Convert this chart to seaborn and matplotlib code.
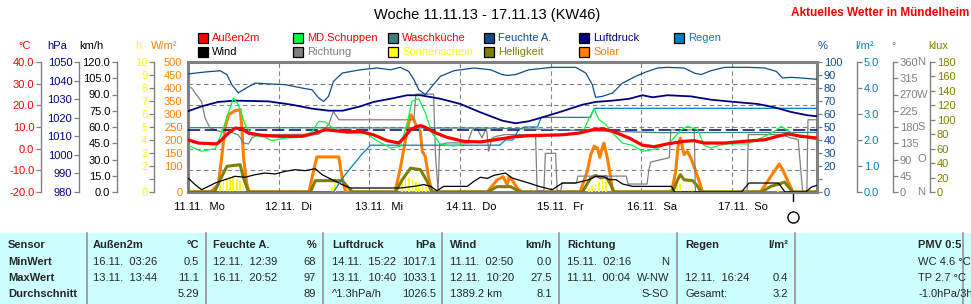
import numpy as np
import pandas as pd
import matplotlib
matplotlib.use("Agg")
import matplotlib.pyplot as plt
import seaborn as sns
from matplotlib.patches import Rectangle
from matplotlib.lines import Line2D
from matplotlib.transforms import blended_transform_factory

# ---------------- data (hours since 11.11. 00:00) ----------------
day_ticks = [0, 24, 48, 72, 96, 120, 144]
day_labels = ["11.11.  Mo", "12.11.  Di", "13.11.  Mi", "14.11.  Do",
              "15.11.  Fr", "16.11.  Sa", "17.11.  So"]

aussen_h = [0, 2.7, 7.6, 8.9, 10.7, 12.5, 14.2, 16, 19.5, 23.9, 30.2, 32.8, 36.3, 39, 42,
            45.6, 49.1, 52.7, 55.8, 57.1, 58.9, 60.6, 61.7, 62.8, 65, 68.6, 73, 77.4, 83.2,
            85.8, 90.2, 94.7, 99.1, 103.5, 107, 109.7, 112.4, 116.8, 120.3, 123.4, 126.9,
            131.3, 134, 136.6, 142, 147.3, 152.6, 156.1, 158.8, 162.3, 166.5]
aussen_v = [4.1, 2.6, 2.2, 4.1, 7.2, 9.5, 9.2, 7.2, 6.2, 5.7, 5.7, 6.8, 8.7, 8.3, 7.7,
            8.0, 6.4, 3.7, 2.6, 4.9, 8.7, 10.3, 10.6, 9.9, 7.7, 5.2, 3.4, 3.1, 4.6,
            5.4, 6.0, 6.2, 6.4, 7.2, 8.7, 9.2, 8.0, 4.9, 1.6, 0.9, 2.2,
            3.4, 3.7, 2.6, 2.6, 3.4, 4.1, 5.7, 6.8, 5.7, 4.9]

schuppen_h = [0, 3.6, 7.2, 8.9, 10.7, 12, 13.3, 15.1, 16.9, 20.4, 22.2, 25.7, 29.2, 32.8,
              34.6, 36.3, 39, 42, 47.4, 50, 53.6, 56.2, 58, 59.3, 61.1, 62.8, 64.6, 66.8,
              70.4, 75.7, 79.2, 81.9, 84, 90.2, 99.1, 104.4, 106.2, 107.5, 108.8, 110.6,
              112.4, 115, 117.7, 120.3, 124.3, 127.8, 130.5, 132.2, 134.9, 136.6, 138.4,
              142, 148.2, 151.7, 155.2, 157, 158.8, 161.4, 166.5]
schuppen_v = [1.5, -1.2, 0.0, 7.2, 16.5, 23.4, 20.3, 11.1, 6.2, 5.2, 3.7, 4.9, 5.2, 7.7,
              12.6, 12.3, 8.7, 7.2, 6.8, 3.7, 0.3, 1.1, 11.8, 21.9, 23.1, 16.5, 7.2, 2.0,
              1.2, 3.1, 3.7, 4.9, 4.9, 5.7, 6.2, 7.2, 14.2, 18.4, 13.4, 11.1,
              7.2, 2.6, 1.5, -1.2, 0.0, 3.4, 8.7, 10.3, 8.7, 1.5, 0.3,
              2.2, 2.2, 4.9, 8.0, 10.3, 8.3, 5.7, 4.1]

wasch_h = [0, 40, 80, 95, 110, 125, 166.5]
wasch_v = [9.7, 9.6, 9.5, 8.9, 8.1, 7.4, 7.5]

feuchte_h = [0, 4.5, 8.5, 10.3, 11.6, 13.3, 15.1, 17.8, 22.2, 25.7, 28.4, 31, 32.8, 34.6,
             35.9, 37.2, 38.5, 40.8, 45.6, 50, 53.6, 56.2, 58.4, 59.8, 61.1, 62.8, 64.2,
             66.8, 70.4, 75.7, 80.1, 83.2, 84.5, 86.7, 90.2, 96.4, 102.6, 105.3, 107,
             107.9, 109.7, 112.4, 115, 118.5, 121.2, 124.3, 126.9, 131.3, 134, 135.8,
             138.4, 142, 148.2, 152.6, 155.7, 157.4, 159.6, 162.3, 166.5]
feuchte_v = [90.8, 92.3, 93.3, 90.3, 82.6, 76.2, 79.5, 83.8, 83.0, 82.6, 81.0, 79.5, 78.7,
             72.3, 69.7, 73.6, 85.0, 91.5, 94.0, 95.4, 94.0, 95.9, 92.8, 86.4, 78.7, 74.9,
             80.0, 89.0, 93.3, 95.4, 94.0, 90.3, 89.7, 90.3, 94.0, 95.9, 95.9, 91.5, 82.6,
             72.8, 73.6, 76.2, 83.8, 89.0, 92.3, 95.4, 95.9, 95.4, 91.5, 90.3,
             93.3, 95.9, 95.9, 95.4, 92.8, 87.7, 88.2, 87.7, 86.7]

druck_h = [0, 3.6, 8, 12.5, 21.3, 27.5, 32.8, 37.2, 41, 45.6, 49.1, 53.6, 58, 61.5, 66.8,
           72.1, 77.4, 83.2, 86.7, 90.2, 93.8, 99.1, 104.4, 107.9, 112.4, 116.8, 120.3,
           123, 126.9, 133.1, 138.4, 144.6, 150.8, 155.2, 159.6, 164, 166.5]
druck_v = [1023.5, 1026.1, 1028.5, 1029.2, 1028.8, 1027.0, 1024.9, 1023.8, 1023.8, 1026.1,
           1028.5, 1030.2, 1032.1, 1032.1, 1030.2, 1027.4, 1022.9, 1018.4, 1017.0, 1018.1,
           1020.2, 1023.5, 1027.0, 1028.5, 1029.2, 1030.2, 1032.1, 1031.0, 1032.1, 1031.5,
           1029.7, 1028.5, 1027.4, 1025.6, 1023.1, 1021.3, 1020.8]
druck_norm = 1013.25

regen_h = [0, 38.5, 41, 43.5, 46, 48.3, 82.5, 84, 86, 87.5, 89, 92.5, 93.5, 106.5, 107.5, 166.5]
regen_v = [0, 0, 0.55, 1.0, 1.45, 1.8, 1.8, 2.0, 2.0, 2.4, 2.5, 2.5, 2.87, 2.87, 3.22, 3.22]

wind_h = [0, 1.9, 3.6, 5.4, 7.2, 9.8, 12.5, 15.1, 17.8, 20.4, 23.1, 25.7, 28.4, 31, 33.7,
          35.5, 38.1, 40.8, 43, 56.2, 59.8, 62.4, 64.2, 65.9, 67.7, 73.9, 75.7, 77.4, 79.2,
          81, 84, 85.8, 90.2, 92.9, 96.4, 99.1, 102.6, 106.2, 107.9, 109.7, 111.5, 113.3,
          115, 117.7, 128.0, 128.8, 146.5, 148.5, 156.3, 158, 163.5, 165, 166.5]
wind_v = [12.9, 6.8, 2.1, 5.2, 8.3, 11.4, 14.5, 13.6, 16.0, 17.5, 16.6, 19.1, 20.6, 19.7,
          21.5, 16.0, 11.4, 6.8, 3.7, 3.7, 5.2, 6.8, 5.2, 1.2, 5.2, 5.2, 9.9, 13.6, 12.5,
          15.4, 17.5, 12.9, 8.3, 5.2, 2.1, 8.3, 8.3, 11.4, 14.5, 14.5, 11.4, 11.4,
          7.4, 5.2, 5.2, 0.0, 0.0, 8.3, 8.3, 0.0, 0.0, 4.5, 6.2]

richtung_h = [0, 1, 2.3, 3.6, 4.5, 5.8, 7.2, 8.9, 10.7, 12, 13.3, 14.7, 16, 16.9, 18.2, 22,
              34.6, 37.2, 38.5, 39.9, 59.8, 60.3, 65, 65.5, 66.2, 66.6, 68.6, 74, 75.2,
              76.5, 77.8, 79, 79.6, 80.5, 81.9, 84, 92, 92.4, 94.2, 94.6, 97.3, 97.7,
              98.7, 99, 102.8, 103.2, 116, 116.5, 121.5, 122, 122.5, 127.4, 127.8, 134,
              134.3, 148, 148.3, 157, 159.5, 161.5, 162.7, 163.8, 164.1, 166.5]
richtung_v = [290, 288, 268, 250, 205, 178, 172, 166, 172, 163, 158, 136, 133, 150, 157, 159,
              160, 186, 223, 200, 200, 271, 271, 103, 2, 131, 136, 136, 172,
              177, 150, 177, 113, 150, 155, 159, 159, 4, 4, 107, 107, 4,
              4, 25, 25, 44, 44, 22, 22, 62, 83, 95, 172, 172,
              0, 0, 159, 159, 150, 145, 0, 0, 200, 200]

solar_h = [0, 6, 8, 8.9, 9.8, 10.7, 12.5, 13.8, 14.2, 14.7, 15.6, 16.2,
           32, 33.2, 34.1, 39.9, 40.8, 41.7,
           54.8, 56.2, 57.5, 58.4, 59, 59.8, 60.6, 61.5, 62, 62.8, 63.7, 64.6,
           79.2, 81.8, 83.4, 84.5, 85, 85.8, 87.2, 88.5,
           103.8, 105.7, 106.6, 107.5, 108.4, 109, 109.7, 110.1, 111, 111.9, 112.4,
           128, 129.1, 129.7, 130.3, 130.9, 131.3, 132.2, 133.1, 134.4, 135.3, 136.2,
           151.5, 153.4, 155.2, 156.5, 157.4, 158.8, 160.1, 166.5]
solar_v = [0, 0, 28, 131, 246, 297, 313, 317, 259, 131, 28, 0,
           0, 80, 135, 135, 54, 0,
           0, 92, 195, 265, 297, 278, 246, 233, 156, 137, 54, 0,
           0, 46, 59, 27, 59, 46, 14, 0,
           0, 80, 144, 176, 169, 133, 172, 188, 131, 54, 0,
           0, 80, 176, 208, 169, 144, 156, 131, 80, 41, 0,
           0, 41, 80, 108, 86, 41, 0, 0]

hell_h = [0, 7, 8.5, 10.3, 13.8, 14.7, 16,
          32.4, 33.7, 40.8, 43.5,
          54.9, 56.7, 58.9, 61.5, 63.3, 64.6,
          79.2, 81.8, 85.4, 88,
          104.4, 106.6, 107.9, 109.3, 110.6, 111.9, 112.8,
          128.3, 129.6, 130.3, 131.3, 133.6, 134.9, 135.8,
          151.7, 154.3, 156.5, 157.9, 158.8, 160.1, 166.5]
hell_v = [0, 0, 17, 35.6, 37.8, 19.4, 0,
          0, 15.7, 15.7, 0,
          0, 17, 33, 31, 14.8, 0,
          0, 7.4, 7.4, 0,
          0, 19.4, 23, 19.4, 21.7, 10, 0,
          0, 17, 24, 17, 15.7, 7.9, 0,
          0, 7.9, 11, 13.8, 7.9, 0, 0]

sonne_h = [8.5, 9.4, 10.3, 11.1, 12.0, 12.9, 13.8, 14.7,
           38.1, 39.0,
           56.7, 57.6, 58.5, 59.4, 60.3, 61.2, 62.1, 63.0, 63.9,
           106.2, 107.0, 107.9, 108.8, 109.7, 110.6,
           129.4, 130.3, 132.5, 133.4,
           156.1]
sonne_v = [0.56, 0.82, 0.95, 1.08, 1.2, 1.02, 0.82, 0.44,
           0.4, 0.75,
           0.67, 1.05, 1.05, 0.92, 0.79, 0.67, 0.41, 0.62, 0.28,
           0.3, 0.45, 0.6, 0.75, 1.15, 0.78,
           0.8, 0.6, 0.15, 0.15,
           0.12]

now_h = 160.1

# ---------------- style ----------------
sns.set_theme(style="white")
plt.rcParams['font.family'] = ['Liberation Sans', 'DejaVu Sans']
plt.rcParams['font.size'] = 8
plt.rcParams['axes.unicode_minus'] = False

W, H = 971, 304
fig = plt.figure(figsize=(W / 100, H / 100), dpi=100)
fig.patch.set_facecolor('white')


def fx(px):
    return px / W


def fy(py):
    return 1 - py / H


L, R, T, B = 188, 817, 62, 192
rect = [fx(L), fy(B), (R - L) / W, (B - T) / H]
XMAX = (R - L) / 3.778
PW = R - L
GRAY = '#808080'

RED = '#ff0000'
GREEN = '#00ff40'
TEAL = '#408080'
FEUCHTE = '#104c8c'
NAVY = '#000080'
REGEN = '#0080c0'
YELLOW = '#ffff00'
OLIVE = '#808000'
ORANGE = '#ff8000'

base = fig.add_axes(rect)
base.set_facecolor('white')
base.set_xlim(0, XMAX)
base.set_ylim(-20, 40)
base.set_xticks(day_ticks)
base.set_xticklabels([])
base.set_yticks([-10, 0, 10, 20, 30])
base.set_yticklabels([])
base.tick_params(length=0)
base.grid(True, color=GRAY, linestyle=(0, (4, 3)), linewidth=0.8)
for s in base.spines.values():
    s.set_visible(True)
    s.set_color(GRAY)
    s.set_linewidth(2.2)

blend = blended_transform_factory(base.transData, base.transAxes)
for d, lab in zip(day_ticks, day_labels):
    base.annotate(lab, xy=(d, 0), xycoords=blend, xytext=(-14 * 0.72, -15 * 0.72),
                  textcoords='offset points', ha='left', va='center',
                  annotation_clip=False, fontsize=8, color='black')


def overlay(ylim, side=None, px=None, color='black', ticks=None, labels=None,
            spine=True, length=3.6):
    a = fig.add_axes(rect, sharex=base)
    a.patch.set_visible(False)
    for s in a.spines.values():
        s.set_visible(False)
    a.grid(False)
    a.tick_params(axis='x', which='both', bottom=False, top=False,
                  labelbottom=False, labeltop=False)
    a.set_ylim(*ylim)
    if side is None:
        a.set_yticks([])
    else:
        if side == 'right':
            a.yaxis.tick_right()
        else:
            a.yaxis.tick_left()
        sp = a.spines[side]
        sp.set_position(('axes', (px - L) / PW))
        sp.set_visible(spine)
        sp.set_color(GRAY)
        sp.set_linewidth(1.0)
        a.set_yticks(ticks)
        a.set_yticklabels(labels)
        a.tick_params(axis='y', colors=GRAY, labelcolor=color, length=length,
                      width=0.9, direction='out', pad=1.2, labelsize=8)
    return a


def line(ax, hs, vs, color, lw, **kw):
    df = pd.DataFrame({'h': hs, 'v': vs})
    sns.lineplot(data=df, x='h', y='v', ax=ax, color=color, linewidth=lw,
                 estimator=None, sort=False, **kw)
    ax.set_xlabel('')
    ax.set_ylabel('')


# Solar (W/m2) - frame side
w_ticks = list(range(0, 501, 50))
ax_w = overlay((0, 500), 'left', L, ORANGE, w_ticks,
               ['' if t == 50 else str(t) for t in w_ticks], spine=False, length=0)
ax_w.tick_params(axis='y', pad=4)
line(ax_w, solar_h, solar_v, ORANGE, 2.2)
ax_w.set_ylim(0, 500)

# Sonnenschein (h)
h_ticks = list(range(0, 11))
ax_h = overlay((0, 10), 'left', 154, YELLOW, h_ticks,
               ['' if t == 1 else str(t) for t in h_ticks])
ax_h.bar(sonne_h, sonne_v, width=0.45, color=YELLOW, linewidth=0)
ax_h.set_ylim(0, 10)

# Helligkeit (klux)
k_ticks = list(range(0, 181, 20))
ax_k = overlay((0, 180), 'right', 930, OLIVE, k_ticks, [str(t) for t in k_ticks])
line(ax_k, hell_h, hell_v, OLIVE, 2.2)
ax_k.set_ylim(0, 180)

# Richtung (deg)
d_ticks = list(range(0, 361, 45))
ax_d = overlay((0, 360), 'right', 893, GRAY, d_ticks, [str(t) for t in d_ticks])
line(ax_d, richtung_h, richtung_v, GRAY, 0.9)
ax_d.set_ylim(0, 360)
for val, letter in [(360, 'N'), (270, 'W'), (180, 'S'), (90, 'O'), (0, 'N')]:
    ax_d.annotate(letter, xy=(1.0, val), xycoords=blended_transform_factory(ax_d.transAxes, ax_d.transData),
                  xytext=((917 - R) * 0.72, 0), textcoords='offset points',
                  ha='left', va='center', color=GRAY, fontsize=8, annotation_clip=False)

# Wind (km/h)
km_ticks = list(range(0, 121, 15))
ax_km = overlay((0, 120), 'left', 117, 'black', km_ticks, ['%.1f' % t for t in km_ticks])
line(ax_km, wind_h, wind_v, 'black', 0.9)
ax_km.set_ylim(0, 120)

# Regen (l/m2)
r_ticks = [0, 1, 2, 3, 4, 5]
ax_r = overlay((0, 5), 'right', 857, REGEN, r_ticks, ['%.1f' % t for t in r_ticks])
line(ax_r, regen_h, regen_v, REGEN, 0.9)
ax_r.set_ylim(0, 5)

# Luftdruck (hPa)
p_ticks = list(range(980, 1051, 10))
ax_p = overlay((980, 1050), 'left', 79, NAVY, p_ticks, [str(t) for t in p_ticks])
ax_p.axhline(druck_norm, color=NAVY, linewidth=1.1, linestyle=(0, (8, 3)))
line(ax_p, druck_h, druck_v, NAVY, 1.3)
ax_p.set_ylim(980, 1050)

# Feuchte (%)
pc_ticks = list(range(0, 101, 10))
ax_pc = overlay((0, 100), 'right', R, FEUCHTE, pc_ticks,
                ['' if t == 10 else str(t) for t in pc_ticks], spine=False)
line(ax_pc, feuchte_h, feuchte_v, FEUCHTE, 0.9)
ax_pc.set_ylim(0, 100)

# Temperaturen (degC)
c_ticks = list(range(-20, 41, 10))
ax_c = overlay((-20, 40), 'left', 41, RED, c_ticks, ['%.1f' % t for t in c_ticks])
line(ax_c, wasch_h, wasch_v, TEAL, 0.9)
line(ax_c, schuppen_h, schuppen_v, GREEN, 0.9)
line(ax_c, aussen_h, aussen_v, RED, 2.3)
ax_c.set_ylim(-20, 40)

base.set_xlim(0, XMAX)

# current time marker
base.plot([now_h, now_h], [0, -9 / 130], color='black', lw=1.0, transform=blend, clip_on=False)
base.plot([now_h], [-25 / 130], marker='o', markersize=8, mfc='none', mec='black',
          mew=1.0, transform=blend, clip_on=False)

# ---------------- unit headers ----------------
for txt, x, c in [("°C", 25, RED), ("hPa", 57.5, NAVY), ("km/h", 91.5, 'black'),
                  ("h", 138.5, YELLOW), ("W/m²", 164.5, ORANGE), ("%", 822.5, FEUCHTE),
                  ("l/m²", 864, REGEN), ("°", 894, GRAY), ("klux", 938.5, OLIVE)]:
    fig.text(fx(x), fy(46), txt, color=c, fontsize=8, ha='center', va='center')

# ---------------- titles ----------------
fig.text(fx(487), fy(15), "Woche 11.11.13 - 17.11.13 (KW46)", fontsize=10.5,
         ha='center', va='center', color='black')
fig.text(fx(969), fy(13), "Aktuelles Wetter in Mündelheim", fontsize=8.5,
         fontweight='bold', ha='right', va='center', color=RED)

# ---------------- legend ----------------
legend_items = [
    ("Außen2m", RED, RED, 0, 0), ("MD.Schuppen", GREEN, RED, 1, 0),
    ("Waschküche", TEAL, RED, 2, 0), ("Feuchte A.", FEUCHTE, FEUCHTE, 3, 0),
    ("Luftdruck", NAVY, NAVY, 4, 0), ("Regen", REGEN, REGEN, 5, 0),
    ("Wind", 'black', 'black', 0, 1), ("Richtung", GRAY, GRAY, 1, 1),
    ("Sonnenschein", YELLOW, YELLOW, 2, 1), ("Helligkeit", OLIVE, OLIVE, 3, 1),
    ("Solar", ORANGE, ORANGE, 4, 1),
]
col_x = [198, 293, 388, 484, 579, 674]
row_y = [38, 52]
for name, fc, tc, ci, ri in legend_items:
    x0, yc = col_x[ci], row_y[ri]
    fig.add_artist(Rectangle((fx(x0), fy(yc + 5)), 10 / W, 10 / H, transform=fig.transFigure,
                             facecolor=fc, edgecolor='black', linewidth=0.9))
    fig.text(fx(x0 + 14), fy(yc), name, color=tc, fontsize=8, ha='left', va='center')

# ---------------- statistics table ----------------
TAB_TOP = 233
fig.add_artist(Rectangle((0, 0), 1, (H - TAB_TOP) / H, transform=fig.transFigure,
                         facecolor='#ccffff', edgecolor='none', zorder=0.5))
for sx in [87, 206, 322.5, 441.5, 559, 677, 795, 963]:
    fig.add_artist(Line2D([fx(sx), fx(sx)], [0, fy(TAB_TOP)], transform=fig.transFigure,
                          color='#a0a0a0', linewidth=1.4))

rows_y = [245, 262, 278, 294]
for i, t in enumerate(["Sensor", "MinWert", "MaxWert", "Durchschnitt"]):
    fig.text(fx(8), fy(rows_y[i]), t, fontsize=8, fontweight='bold', ha='left', va='center')

table_cols = [
    (93, 199, "Außen2m", "°C", [("16.11.  03:26", "0.5"), ("13.11.  13:44", "11.1"), ("", "5.29")]),
    (213, 316, "Feuchte A.", "%", [("12.11.  12:39", "68"), ("16.11.  20:52", "97"), ("", "89")]),
    (332, 436, "Luftdruck", "hPa", [("14.11.  15:22", "1017.1"), ("13.11.  10:40", "1033.1"),
                                    ("^1.3hPa/h", "1026.5")]),
    (450, 552, "Wind", "km/h", [("11.11.  02:50", "0.0"), ("12.11.  10:20", "27.5"),
                                ("1389.2 km", "8.1")]),
    (567, 669, "Richtung", "", [("15.11.  02:16", "N"), ("11.11.  00:04", "W-NW"), ("", "S-SO")]),
    (685, 788, "Regen", "l/m²", [("", ""), ("12.11.  16:24", "0.4"), ("Gesamt:", "3.2")]),
]
for xl, xr, head, unit, vals in table_cols:
    fig.text(fx(xl), fy(rows_y[0]), head, fontsize=8, fontweight='bold', ha='left', va='center')
    if unit:
        fig.text(fx(xr), fy(rows_y[0]), unit, fontsize=8, fontweight='bold', ha='right', va='center')
    for j, (a, b) in enumerate(vals):
        if a:
            fig.text(fx(xl), fy(rows_y[j + 1]), a, fontsize=8, ha='left', va='center')
        if b:
            fig.text(fx(xr), fy(rows_y[j + 1]), b, fontsize=8, ha='right', va='center')

pmv = [("PMV 0:5", True), ("WC 4.6 °C", False), ("TP 2.7 °C", False), ("-1.0hPa/3h", False)]
for j, (t, bold) in enumerate(pmv):
    fig.text(fx(918), fy(rows_y[j]), t, fontsize=8, fontweight='bold' if bold else 'normal',
             ha='left', va='center')

fig.savefig("out.png", dpi=100, facecolor='white')
